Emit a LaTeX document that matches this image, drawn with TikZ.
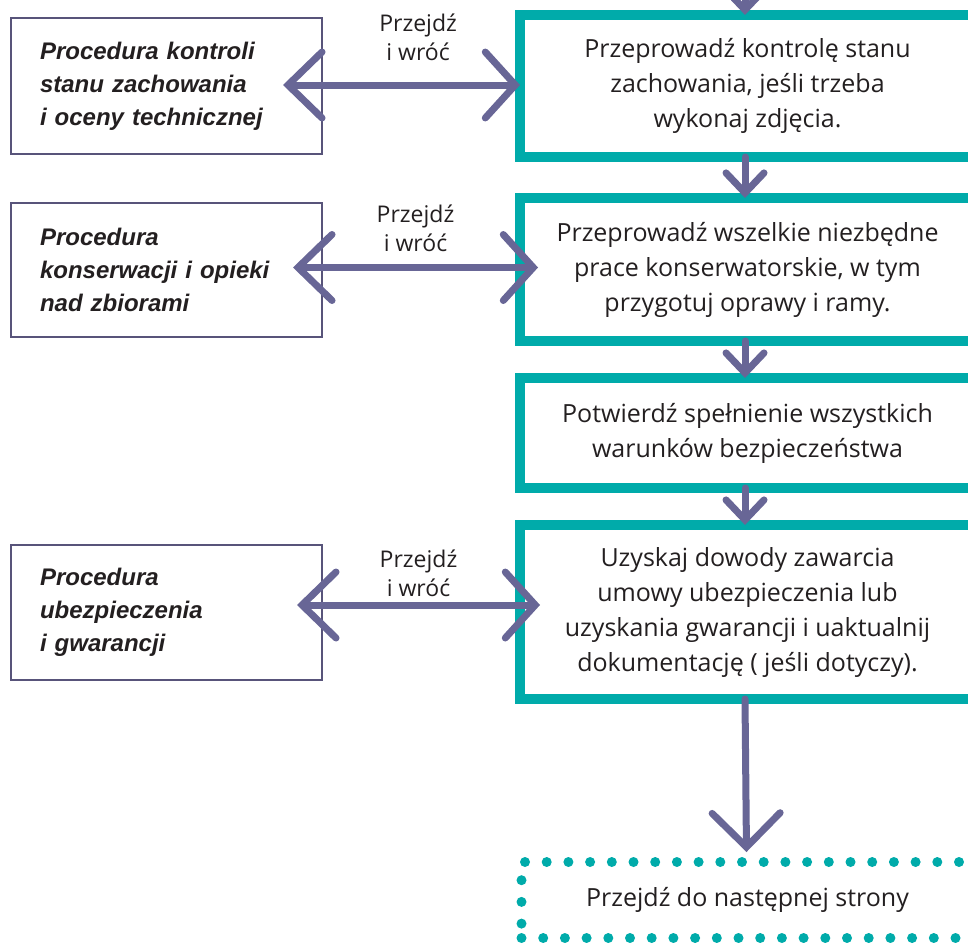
\documentclass[tikz,border=0pt]{standalone}
\usepackage{fontspec}
\setmainfont{Open Sans}
\newfontfamily\procfont{Liberation Sans}
\usepackage{xcolor}
\definecolor{StepTeal}{RGB}{0,171,170}
\definecolor{ProcInk}{RGB}{88,84,122}
\definecolor{ChalkViolet}{RGB}{104,102,150}
\definecolor{TextInk}{RGB}{35,31,32}
\usetikzlibrary{
    arrows.meta,
    positioning,
    calc
}

\begin{document}
\begin{tikzpicture}[
    x=1pt,
    y=-1pt,
    outer sep=0pt,
%
    stepbox/.style={
        draw=StepTeal,
        line width=10pt,
        minimum width=455pt,
        inner sep=0pt,
        align=center,
        text=TextInk,
        font=\fontsize{25}{35}\selectfont
    },
%
    procbox/.style={
        draw=ProcInk,
        line width=2pt,
        text width=253pt,
        inner xsep=29pt,
        inner ysep=0pt,
        align=left,
        text=TextInk,
        font=\procfont\bfseries\itshape\fontsize{24}{33}\selectfont
    },
%
    nextbox/.style={
        draw=StepTeal,
        line width=10pt,
        line cap=round,
        dash pattern=on 0pt off 21.7pt,
        minimum width=452pt,
        minimum height=76pt,
        inner sep=0pt,
        text=TextInk,
        font=\fontsize{25}{35}\selectfont
    },
%
    hint/.style={
        align=center,
        inner sep=0pt,
        text=TextInk,
        font=\fontsize{23}{29}\selectfont
    },
%
    link/.style={
        {Straight Barb[length=34pt,width=66pt,line cap=round]}-{Straight Barb[length=30pt,width=66pt,line cap=round]},
        line width=7pt,
        line cap=round,
        color=ChalkViolet
    },
%
    flow/.style={
        -{Straight Barb[length=20pt,width=38pt,line cap=round]},
        line width=7pt,
        line cap=round,
        color=ChalkViolet
    }
]
\useasboundingbox (0,0) rectangle (968,942);
%
% Main column: the steps of the procedure, one under the other.
%
\node[
    stepbox,
    minimum height=142pt
] (rbox1) at (747.5,86) {
    Przeprowadź kontrolę stanu\\
    zachowania, jeśli trzeba\\
    wykonaj zdjęcia.
};
\node[
    stepbox,
    minimum height=143pt,
    below=41pt of rbox1
] (rbox2) {
    Przeprowadź wszelkie niezbędne\\
    prace konserwatorskie, w tym\\
    przygotuj oprawy i ramy.
};
\node[
    stepbox,
    minimum height=110pt,
    below=37pt of rbox2
] (rbox3) {
    Potwierdź spełnienie wszystkich\\
    warunków bezpieczeństwa
};
\node[
    stepbox,
    minimum height=174pt,
    below=37pt of rbox3
] (rbox4) {
    Uzyskaj dowody zawarcia\\
    umowy ubezpieczenia lub\\
    uzyskania gwarancji i uaktualnij\\
    dokumentację ( jeśli dotyczy).
};
\node[
    nextbox,
    below=163pt of rbox4
] (next) {Przejdź do następnej strony};
\coordinate (entry) at ($(rbox1.north)+(-2.5,-40)$);
%
% Side column: the related procedures.
%
\node[
    procbox,
    minimum height=136pt,
    left=198pt of rbox1
] (lbox1) {
    Procedura kontroli\\
    stanu zachowania\\
    i oceny technicznej
};
\node[
    procbox,
    minimum height=134pt,
    left=198pt of rbox2
] (lbox2) {
    Procedura\\
    konserwacji i opieki\\
    nad zbiorami
};
\node[
    procbox,
    minimum height=135pt,
    left=198pt of rbox4
] (lbox3) {
    Procedura\\
    ubezpieczenia\\
    i gwarancji
};
%
% Flow down the main column.
%
\draw[flow] (entry) -- ([xshift=-2.5pt]rbox1.north);
\draw[flow] ([xshift=-2.5pt]rbox1.south) -- ([xshift=-2.5pt]rbox2.north);
\draw[flow] ([xshift=-2.5pt]rbox2.south) -- ([xshift=-2.5pt]rbox3.north);
\draw[flow] ([xshift=-2.5pt]rbox3.south) -- ([xshift=-2.5pt]rbox4.north);
\draw[
    flow,
    -{Straight Barb[length=34pt,width=68pt,line cap=round]}
] ([xshift=-2.5pt]rbox4.south) -- ([xshift=-1pt,yshift=10pt]next.north);
%
% Go and come back: links to the side procedures.
%
\draw[link] ([xshift=-39pt,yshift=1pt]lbox1.east) -- ([yshift=1pt]rbox1.west)
    node[hint, pos=0.57, above=24pt] (hint1) {Przejdź\\i wróć};
\draw[link] ([xshift=-29pt,yshift=2pt]lbox2.east) -- ([xshift=18pt,yshift=2pt]rbox2.west)
    node[hint, pos=0.5, above=16pt] (hint2) {Przejdź\\i wróć};
\draw[link] ([xshift=-25pt,yshift=7pt]lbox3.east) -- ([xshift=20pt,yshift=7pt]rbox4.west)
    node[hint, pos=0.5, above=8pt] (hint3) {Przejdź\\i wróć};
%
\end{tikzpicture}
\end{document}
